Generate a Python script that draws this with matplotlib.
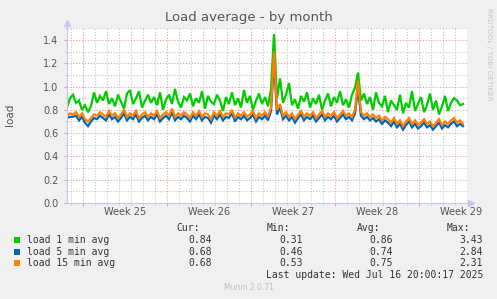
import numpy as np
import matplotlib as mpl
mpl.use('Agg')
import matplotlib.pyplot as plt
import matplotlib.transforms as mtransforms

# samples every 6 hours, first one 1.33 days before start of Week 25
t_start = -16 / 12.0
t_step = 0.25

load1 = [0.82, 0.90, 0.93, 0.86, 0.88, 0.80, 0.84, 0.78, 0.83, 0.95,
         0.86, 0.92, 0.88, 0.96, 0.85, 0.90, 0.83, 0.93, 0.87, 0.81,
         0.94, 0.97, 0.85, 0.90, 0.96, 0.82, 0.88, 0.93, 0.86, 0.91,
         0.84, 0.95, 0.80, 0.89, 0.93, 0.85, 0.98, 0.87, 0.82, 0.91,
         0.88, 0.94, 0.83, 0.90, 0.86, 0.96, 0.81, 0.92, 0.87, 0.85,
         0.93, 0.88, 0.79, 0.91, 0.85, 0.95, 0.84, 0.90, 0.82, 0.97,
         0.86, 0.92, 0.80, 0.88, 0.94, 0.85, 0.91, 0.83, 0.98, 1.45,
         0.90, 1.07, 0.86, 0.93, 1.03, 0.84, 0.89, 0.81, 0.92, 0.87,
         0.95, 0.82, 0.90, 0.85, 0.93, 0.80, 0.88, 0.94, 0.83, 0.91,
         0.86, 0.96, 0.84, 0.89, 0.82, 0.93, 0.99, 1.12, 0.88, 0.94,
         0.85, 0.91, 0.80, 0.95, 0.86, 0.83, 0.92, 0.78, 0.88, 0.84,
         0.80, 0.93, 0.77, 0.86, 0.82, 0.96, 0.79, 0.85, 0.91, 0.78,
         0.84, 0.94, 0.80, 0.88, 0.76, 0.83, 0.92, 0.79, 0.86, 0.90,
         0.88, 0.84, 0.85]

load5 = [0.73, 0.74, 0.74, 0.75, 0.71, 0.74, 0.69, 0.66, 0.70, 0.73,
         0.72, 0.75, 0.73, 0.71, 0.76, 0.72, 0.74, 0.70, 0.73, 0.77,
         0.71, 0.74, 0.72, 0.76, 0.70, 0.73, 0.75, 0.71, 0.74, 0.72,
         0.76, 0.70, 0.73, 0.75, 0.72, 0.78, 0.71, 0.74, 0.72, 0.75,
         0.73, 0.70, 0.75, 0.72, 0.76, 0.71, 0.74, 0.73, 0.69, 0.75,
         0.72, 0.76, 0.71, 0.74, 0.73, 0.77, 0.70, 0.74, 0.72, 0.75,
         0.71, 0.73, 0.76, 0.70, 0.74, 0.72, 0.75, 0.71, 0.79, 1.22,
         0.76, 0.82, 0.72, 0.75, 0.71, 0.74, 0.69, 0.73, 0.76, 0.71,
         0.74, 0.72, 0.75, 0.70, 0.73, 0.76, 0.71, 0.74, 0.72, 0.75,
         0.70, 0.73, 0.76, 0.72, 0.74, 0.71, 0.77, 0.98, 0.75, 0.72,
         0.74, 0.71, 0.73, 0.70, 0.72, 0.68, 0.71, 0.69, 0.66, 0.70,
         0.65, 0.68, 0.63, 0.67, 0.70, 0.65, 0.68, 0.64, 0.66, 0.69,
         0.65, 0.67, 0.63, 0.66, 0.69, 0.64, 0.67, 0.65, 0.68, 0.70,
         0.66, 0.68, 0.66]

load15 = [0.75, 0.77, 0.76, 0.78, 0.74, 0.77, 0.72, 0.70, 0.73, 0.76,
          0.75, 0.78, 0.76, 0.74, 0.79, 0.75, 0.77, 0.73, 0.76, 0.80,
          0.74, 0.77, 0.75, 0.79, 0.73, 0.76, 0.78, 0.74, 0.77, 0.75,
          0.79, 0.73, 0.76, 0.78, 0.75, 0.81, 0.74, 0.77, 0.75, 0.78,
          0.76, 0.73, 0.78, 0.75, 0.79, 0.74, 0.77, 0.76, 0.72, 0.78,
          0.75, 0.79, 0.74, 0.77, 0.76, 0.80, 0.73, 0.77, 0.75, 0.78,
          0.74, 0.76, 0.79, 0.73, 0.77, 0.75, 0.78, 0.74, 0.82, 1.30,
          0.80, 0.85, 0.75, 0.78, 0.74, 0.77, 0.72, 0.76, 0.79, 0.74,
          0.77, 0.75, 0.78, 0.73, 0.76, 0.79, 0.74, 0.77, 0.75, 0.78,
          0.73, 0.76, 0.79, 0.75, 0.77, 0.74, 0.80, 1.05, 0.78, 0.75,
          0.77, 0.74, 0.76, 0.73, 0.75, 0.71, 0.74, 0.72, 0.69, 0.73,
          0.68, 0.71, 0.66, 0.70, 0.73, 0.68, 0.71, 0.67, 0.69, 0.72,
          0.68, 0.70, 0.66, 0.69, 0.72, 0.67, 0.70, 0.68, 0.71, 0.73,
          0.69, 0.71, 0.68]

series_names = ['load 1 min avg', 'load 5 min avg', 'load 15 min avg']
series_colors = ['#00CC00', '#0066B3', '#FF8000']
cur_vals = ['0.84', '0.68', '0.68']
min_vals = ['0.31', '0.46', '0.53']
avg_vals = ['0.86', '0.74', '0.75']
max_vals = ['3.43', '2.84', '2.31']
week_labels = ['Week 25', 'Week 26', 'Week 27', 'Week 28', 'Week 29']

W, H = 497, 299
fig = plt.figure(figsize=(W / 100, H / 100), dpi=100, facecolor='#F0F0F0')
ax = fig.add_axes([67 / W, 1 - 203 / H, 400 / W, 175 / H], facecolor='white')

t = t_start + t_step * np.arange(len(load1))
for vals, col in zip([load1, load5, load15], series_colors):
    ax.plot(t, vals, color=col, lw=1.6, solid_joinstyle='miter')

ax.set_xlim(t_start, 32.0)
ax.set_ylim(0, 1.503)

# grid like rrdtool
ax.set_yticks(np.arange(0, 1.41, 0.2))
ax.set_yticks(np.arange(0, 1.51, 0.1), minor=True)
ax.set_yticklabels(['%.1f' % v for v in np.arange(0, 1.41, 0.2)])
ax.set_xticks([0, 7, 14, 21, 28])
ax.set_xticks(np.arange(-1, 32, 1), minor=True)
ax.set_xticklabels([])
ax.grid(which='minor', color='#C4C4C4', lw=0.8, ls=(0, (1, 1.6)))
ax.grid(which='major', color='#E4A0A0', lw=0.8, ls=(0, (1, 1.6)))
ax.set_axisbelow(True)
ax.tick_params(which='both', length=2, color='#E0A0A0', labelsize=7,
               labelcolor='#555555', pad=3)
ax.tick_params(which='minor', color='#C4C4C4', length=1.5)
ax.tick_params(axis='y', which='major', pad=4)
for s in ['top', 'right']:
    ax.spines[s].set_visible(False)
for s in ['left', 'bottom']:
    ax.spines[s].set_color('#C8C8EE')
    ax.spines[s].set_linewidth(0.8)

# axis arrows
ax.plot([t_start], [1.55], marker='^', color='#C8C8EE', ms=5, clip_on=False)
ax.plot([32.3], [0], marker='>', color='#C8C8EE', ms=5, clip_on=False)
ax.plot([t_start, t_start], [1.5, 1.55], color='#C8C8EE', lw=0.8, clip_on=False)

trans = mtransforms.blended_transform_factory(ax.transData, fig.transFigure)
for k, lab in enumerate(week_labels):
    ax.text(3.5 + 7 * k, 1 - 212 / H, lab, transform=trans, ha='center',
            va='center', fontsize=7, color='#555555')

fig.text(249 / W, 1 - 18 / H, 'Load average - by month', ha='center',
         va='center', fontsize=9.5, color='#555555')
fig.text(10 / W, 1 - 115 / H, 'load', rotation=90, ha='center', va='center',
         fontsize=7.5, color='#555555')
fig.text(489 / W, 1 - 54 / H, 'RRDTOOL / TOBI OETIKER', rotation=270,
         ha='center', va='center', fontsize=5.2, color='#C8C8C8')

# legend block
mono = 'DejaVu Sans Mono'
fs = 7
for x_end, head in zip([200, 290, 380, 470], ['Cur:', 'Min:', 'Avg:', 'Max:']):
    fig.text(x_end / W, 1 - 228 / H, head, ha='right', va='center',
             family=mono, fontsize=fs, color='#333333')
for r in range(3):
    y = 1 - (240 + 11.7 * r) / H
    fig.patches.append(plt.Rectangle((14 / W, y - 3 / H), 6 / W, 6 / H,
                                     transform=fig.transFigure,
                                     color=series_colors[r], lw=0))
    fig.text(27 / W, y, series_names[r], ha='left', va='center', family=mono,
             fontsize=fs, color='#333333')
    for x_end, v in zip([212, 303, 393, 483],
                        [cur_vals[r], min_vals[r], avg_vals[r], max_vals[r]]):
        fig.text(x_end / W, y, v, ha='right', va='center', family=mono,
                 fontsize=fs, color='#333333')
fig.text(483 / W, 1 - 275 / H, 'Last update: Wed Jul 16 20:00:17 2025',
         ha='right', va='center', family=mono, fontsize=fs, color='#333333')
fig.text(249 / W, 1 - 288 / H, 'Munin 2.0.71', ha='center', va='center',
         fontsize=5.5, color='#C0C0C0')

fig.savefig('out.png', dpi=100, facecolor=fig.get_facecolor())
